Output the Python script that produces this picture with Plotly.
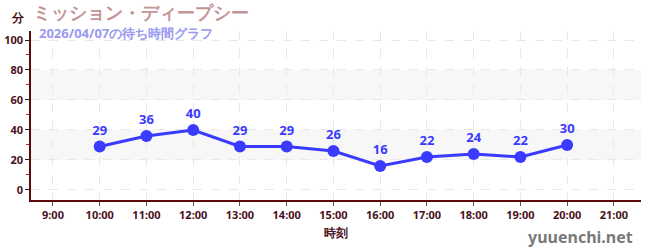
import plotly.graph_objects as go

hours = [10, 11, 12, 13, 14, 15, 16, 17, 18, 19, 20]
waits = [29, 36, 40, 29, 29, 26, 16, 22, 24, 22, 30]
tick_vals = list(range(9, 22))
tick_text = [f"{h}:00" for h in tick_vals]

axis_col = "#5a0a0a"
label_col = "#4a1020"

fig = go.Figure()
fig.add_trace(go.Scatter(
    x=hours, y=waits, mode="lines+markers+text",
    text=[str(v) for v in waits], textposition="top center",
    textfont=dict(family="Noto Sans", size=13, color="#3b3bff", weight="bold"),
    line=dict(color="#3b3bff", width=3),
    marker=dict(color="#3b3bff", size=12),
    cliponaxis=False, showlegend=False,
))

for y0, y1 in [(20, 40), (60, 80)]:
    fig.add_shape(type="rect", xref="paper", x0=0, x1=1, yref="y", y0=y0, y1=y1,
                  fillcolor="#f5f5f5", line=dict(width=0), layer="below", opacity=0.8)

fig.update_layout(
    width=650, height=250,
    margin=dict(l=31, r=9, t=31, b=50),
    plot_bgcolor="white", paper_bgcolor="white",
    font=dict(family="Noto Sans", color=label_col),
    xaxis=dict(range=[8.53, 21.58], tickvals=tick_vals, ticktext=tick_text,
               showline=True, linecolor=axis_col, linewidth=1.5, automargin=False,
               ticks="outside", ticklen=4, tickcolor="#555",
               tickfont=dict(size=11, color=label_col, weight="bold"),
               showgrid=True, gridcolor="#e8e8e8", griddash="dash", zeroline=False,
               title=dict(text="時刻", font=dict(size=12, color=label_col, weight="bold"), standoff=8)),
    yaxis=dict(range=[-6.7, 106], tickvals=[0, 20, 40, 60, 80, 100],
               showline=True, linecolor=axis_col, linewidth=1.5, automargin=False,
               ticks="outside", ticklen=4, tickcolor="#222",
               tickfont=dict(size=11, color=label_col, weight="bold"),
               minor=dict(tickvals=[10, 30, 50, 70, 90], ticks="outside", ticklen=3, tickcolor="#d02020"),
               showgrid=True, gridcolor="#e8e8e8", griddash="dash", zeroline=False),
)

fig.add_annotation(xref="paper", yref="paper", x=0, xshift=-4, y=1.0, yshift=14, xanchor="right", yanchor="middle",
                   text="<b>分</b>", showarrow=False, font=dict(size=12, color=label_col))
fig.add_annotation(xref="paper", yref="paper", x=0, xshift=0, y=1.0, yshift=19, xanchor="left", yanchor="middle",
                   text="<b>ミッション・ディープシー</b>", showarrow=False,
                   font=dict(size=17.5, color="#c49494"))
fig.add_annotation(xref="paper", yref="paper", x=0, xshift=6, y=1.0, yshift=-2, xanchor="left", yanchor="middle",
                   text="<b>2026/04/07の待ち時間グラフ</b>", showarrow=False,
                   font=dict(size=13, color="#9a9af0"))
fig.add_annotation(xref="paper", yref="paper", x=1.0, xshift=-6, y=0, yshift=-50, xanchor="right", yanchor="bottom",
                   text="<b>yuuenchi.net</b>", showarrow=False,
                   font=dict(size=16, color="#7a7a7a"))

fig.write_html("out.html")
